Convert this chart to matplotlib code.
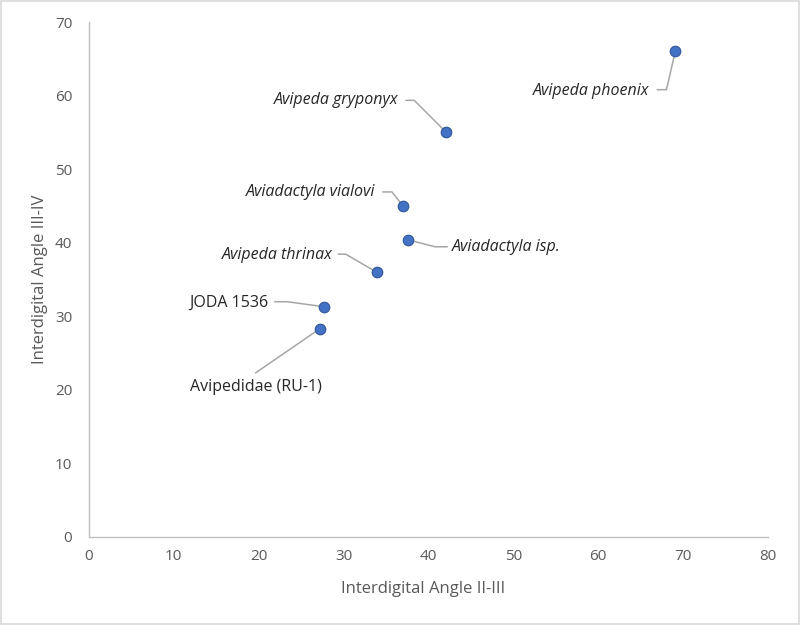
import matplotlib.pyplot as plt
import matplotlib.transforms as mtransforms
from matplotlib.patches import Rectangle

# Interdigital angles
names = ['Avipeda phoenix', 'Avipeda gryponyx', 'Aviadactyla vialovi', 'Aviadactyla isp.',
         'Avipeda thrinax', 'JODA 1536', 'Avipedidae (RU-1)']
angle_2_3 = [69.1, 42.1, 37.0, 37.6, 33.9, 27.7, 27.2]
angle_3_4 = [66.1, 55.0, 45.0, 40.4, 36.0, 31.3, 28.3]
italic = [True, True, True, True, True, False, False]

# label layout: text offset (px, y up), alignment, leader path offsets (px)
label_pos = [
    ((-26, -40), 'right', [(-9, -39), (-18, -39)]),
    ((-48, 32), 'right', [(-32, 32), (-40, 32)]),
    ((-28, 14), 'right', [(-11, 14), (-20, 14)]),
    ((44, -7), 'left', [(27, -7), (39, -7)]),
    ((-44, 17), 'right', [(-31, 18), (-38, 18)]),
    ((-56, 4), 'right', [(-37, 5), (-49, 5)]),
    ((-64, -58), 'center', [(-64, -44)]),
]

text_grey = '#595959'
plt.rcParams['font.family'] = ['Open Sans', 'DejaVu Sans']

fig = plt.figure(figsize=(8, 6.25), dpi=100)
ax = fig.add_axes([0.111, 0.1408, 0.849, 0.824])
ax.set_xlim(0, 80)
ax.set_ylim(0, 70)

ax.scatter(angle_2_3, angle_3_4, s=58, color='#4472C4', edgecolor='#2F5597',
           linewidth=0.8, zorder=3)

for i, name in enumerate(names):
    (tx, ty), ha, path = label_pos[i]
    x, y = angle_2_3[i], angle_3_4[i]
    px0, py0 = ax.transData.transform((x, y))
    pts = [(px0, py0)] + [(px0 + px, py0 + py) for px, py in path]
    data_pts = ax.transData.inverted().transform(pts)
    ax.plot(data_pts[:, 0], data_pts[:, 1], color='#A6A6A6', lw=1.1, zorder=2)
    ttr = ax.transData + mtransforms.ScaledTranslation(tx / 100, ty / 100, fig.dpi_scale_trans)
    ax.text(x, y, name, transform=ttr, ha=ha, va='center', fontsize=11.5,
            style='italic' if italic[i] else 'normal', color='#262626')

ax.set_xticks(range(0, 81, 10))
ax.set_yticks(range(0, 71, 10))
ax.tick_params(length=0, labelsize=11, colors=text_grey, pad=12)
ax.tick_params(axis='x', pad=9)
for side in ['top', 'right']:
    ax.spines[side].set_visible(False)
for side in ['left', 'bottom']:
    ax.spines[side].set_color('#BFBFBF')
    ax.spines[side].set_linewidth(1)

ax.set_xlabel('Interdigital Angle II-III', fontsize=12, color=text_grey, labelpad=10)
ax.set_ylabel('Interdigital Angle III-IV', fontsize=12, color=text_grey, labelpad=5)
ax.xaxis.set_label_coords(0.4925, -0.085)

fig.patches.append(Rectangle((0.001, 0.001), 0.998, 0.998, transform=fig.transFigure,
                             fill=False, edgecolor='#D9D9D9', lw=1.2))

fig.savefig('out.png', dpi=100)
